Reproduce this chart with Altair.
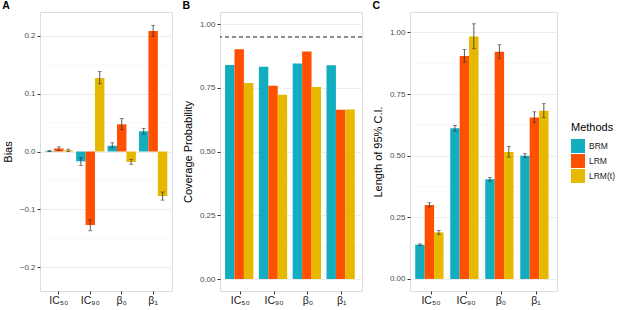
import altair as alt
import pandas as pd

params = ["IC₅₀", "IC₉₀", "β₀", "β₁"]
methods = ["BRM", "LRM", "LRM(t)"]
colors = ["#12ADBF", "#FF4F00", "#E6B800"]

# Panel A: Bias (param x method), with error bar lows/highs
bias = [[0.001, 0.005, 0.002],
        [-0.017, -0.127, 0.127],
        [0.010, 0.047, -0.018],
        [0.035, 0.208, -0.077]]
bias_lo = [[0.000, 0.002, 0.000],
           [-0.024, -0.137, 0.117],
           [0.006, 0.038, -0.022],
           [0.030, 0.199, -0.084]]
bias_hi = [[0.002, 0.008, 0.004],
           [-0.011, -0.118, 0.138],
           [0.015, 0.057, -0.014],
           [0.040, 0.218, -0.070]]

# Panel B: Coverage probability
cover = [[0.840, 0.902, 0.769],
         [0.833, 0.759, 0.723],
         [0.846, 0.893, 0.754],
         [0.839, 0.664, 0.665]]
nominal = [0.95]

# Panel C: Length of 95% C.I.
length = [[0.139, 0.300, 0.189],
          [0.611, 0.904, 0.984],
          [0.404, 0.922, 0.515],
          [0.500, 0.655, 0.682]]
length_lo = [[0.136, 0.292, 0.181],
             [0.599, 0.879, 0.934],
             [0.397, 0.895, 0.494],
             [0.492, 0.634, 0.655]]
length_hi = [[0.142, 0.309, 0.197],
             [0.623, 0.931, 1.035],
             [0.411, 0.950, 0.538],
             [0.508, 0.678, 0.711]]


def frame(vals, lo=None, hi=None):
    rows = []
    for i, p in enumerate(params):
        for j, m in enumerate(methods):
            r = {"param": p, "method": m, "value": vals[i][j]}
            if lo is not None:
                r["lo"] = lo[i][j]
                r["hi"] = hi[i][j]
            rows.append(r)
    return pd.DataFrame(rows)


FONT = "Liberation Sans"

xenc = alt.X("param:N", sort=params, title=None,
             scale=alt.Scale(paddingInner=0.1, paddingOuter=0.15),
             axis=alt.Axis(labelAngle=0, labelFontSize=10.5, labelColor="#1a1a1a",
                           labelFont=FONT, tickColor="#333333", tickSize=3,
                           domain=False, grid=False, labelPadding=1))
xoff = alt.XOffset("method:N", sort=methods,
                   scale=alt.Scale(paddingInner=0, paddingOuter=0))
color_enc = alt.Color("method:N", sort=methods,
                      scale=alt.Scale(domain=methods, range=colors),
                      legend=alt.Legend(title="Methods", symbolType="square",
                                        symbolSize=196, symbolStrokeWidth=0,
                                        titleFontSize=11, titleFontWeight="normal",
                                        titleColor="black", labelFontSize=8.5,
                                        labelColor="#1a1a1a", titleFont=FONT,
                                        labelFont=FONT, rowPadding=1,
                                        orient="none", legendX=531, legendY=110,
                                        titlePadding=6))


def panel(df, ytitle, domain, major, minor, label, err=True, hline=None, w=132):
    yscale = alt.Scale(domain=domain, nice=False, zero=False)
    yaxis = alt.Axis(values=major, format=".2f" if label != "A" else ".1f",
                     title=ytitle, titleFontSize=11, titleFontWeight="normal",
                     titleColor="black", titleFont=FONT, labelFont=FONT,
                     labelFontSize=8, labelColor="#4D4D4D", tickColor="#333333",
                     tickSize=3, domain=False, gridColor="#EBEBEB",
                     gridWidth=0.9, labelPadding=2, titlePadding=6)
    minor_df = pd.DataFrame({"v": minor})
    grid_minor = alt.Chart(minor_df).mark_rule(color="#F3F3F3", strokeWidth=0.6).encode(
        y=alt.Y("v:Q", scale=yscale))
    bars = alt.Chart(df).mark_bar().encode(
        x=xenc, xOffset=xoff,
        y=alt.Y("value:Q", scale=yscale, axis=yaxis),
        color=color_enc)
    layers = [grid_minor, bars]
    if err:
        rule = alt.Chart(df).mark_rule(color="#333333", strokeWidth=0.8).encode(
            x=xenc, xOffset=xoff, y=alt.Y("lo:Q", scale=yscale), y2="hi:Q")
        cap_lo = alt.Chart(df).mark_tick(color="#333333", thickness=0.8, size=4).encode(
            x=xenc, xOffset=xoff, y=alt.Y("lo:Q", scale=yscale))
        cap_hi = alt.Chart(df).mark_tick(color="#333333", thickness=0.8, size=4).encode(
            x=xenc, xOffset=xoff, y=alt.Y("hi:Q", scale=yscale))
        layers += [rule, cap_lo, cap_hi]
    if hline is not None:
        hl = alt.Chart(pd.DataFrame({"h": hline})).mark_rule(
            color="#1a1a1a", strokeDash=[4, 3], strokeWidth=1).encode(
            y=alt.Y("h:Q", scale=yscale))
        layers.append(hl)
    return alt.layer(*layers).properties(
        width=w, height=279,
        title=alt.TitleParams(label, anchor="start", frame="bounds", fontSize=10.5,
                              fontWeight="bold", font=FONT, color="black", offset=1))


dfA = frame(bias, bias_lo, bias_hi)
dfB = frame(cover)
dfC = frame(length, length_lo, length_hi)

pA = panel(dfA, "Bias", [-0.241, 0.241], [-0.2, -0.1, 0.0, 0.1, 0.2],
           [-0.15, -0.05, 0.05, 0.15], "A", w=132)
pB = panel(dfB, "Coverage Probability", [-0.047, 1.048], [0, 0.25, 0.5, 0.75, 1.0],
           [0.125, 0.375, 0.625, 0.875], "B", err=False, hline=nominal, w=142)
pC = panel(dfC, "Length of 95% C.I.", [-0.049, 1.083], [0, 0.25, 0.5, 0.75, 1.0],
           [0.125, 0.375, 0.625, 0.875], "C", w=147)

chart = alt.hconcat(pA, pB, pC, spacing=48, bounds="flush").resolve_scale(
    y="independent").properties(padding={"left": 1, "top": 0, "right": 0, "bottom": 0}
).configure_view(stroke="#8C8C8C", strokeWidth=1).configure(
    font=FONT)

chart.save("out.html", embed_options={"renderer": "svg", "actions": False})
